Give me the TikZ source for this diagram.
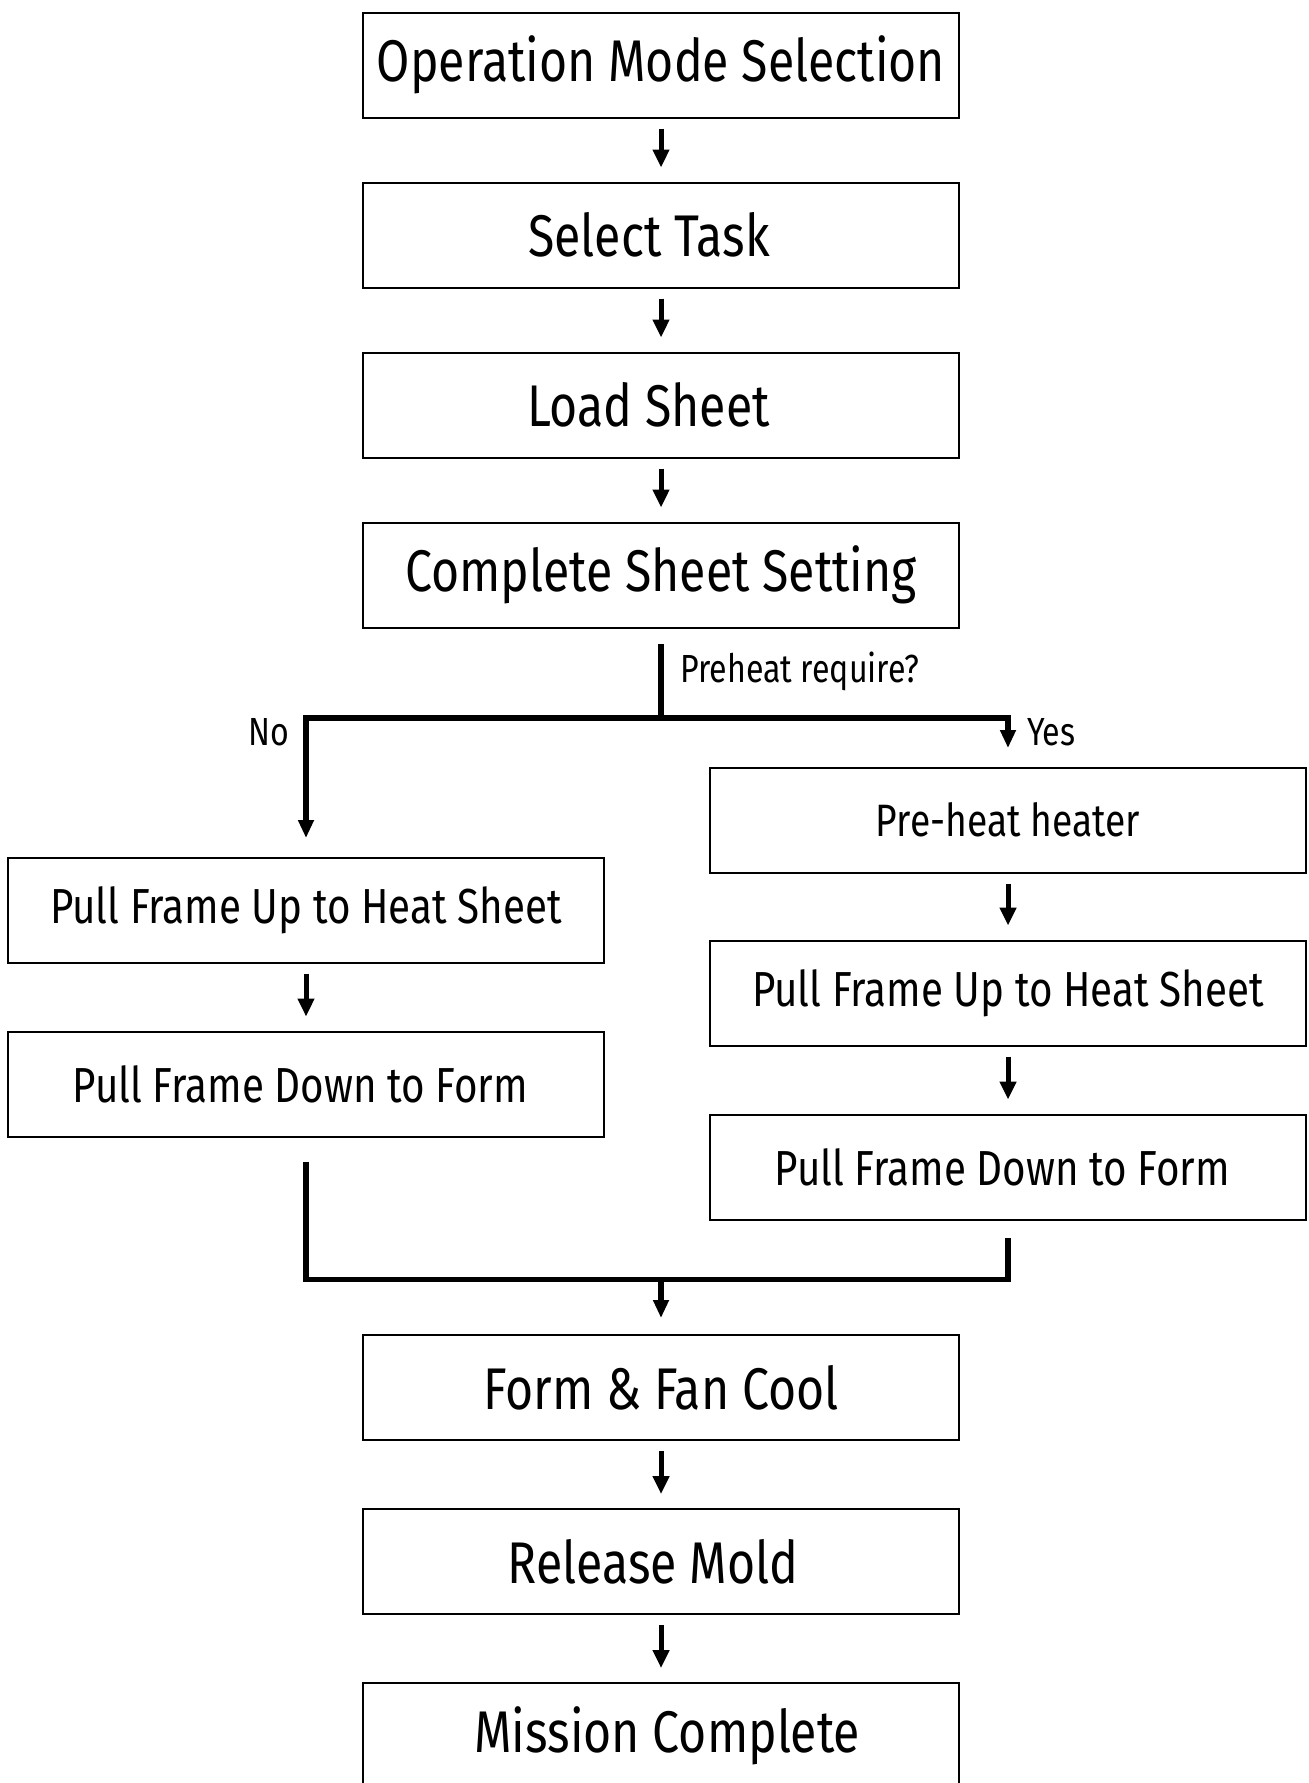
\documentclass[tikz,border=0pt]{standalone}
\usepackage{fontspec}
\setmainfont{Fira Sans}[FakeStretch=0.82]
\usetikzlibrary{arrows.meta,positioning}

\tikzset{
  stepbox/.style={draw, rectangle, line width=1pt, minimum width=298pt, minimum height=52.5pt, inner sep=0pt},
  bigtext/.style={font=\fontsize{29.4pt}{34pt}\selectfont},
  midtext/.style={font=\fontsize{24.6pt}{29pt}\selectfont},
  smalltext/.style={font=\fontsize{22.7pt}{27pt}\selectfont},
  tagtext/.style={font=\fontsize{19.6pt}{23pt}\selectfont},
  nudge/.style={execute at begin node={\hspace*{#1}}},
  arr/.style={line width=2.5pt, -{Triangle[width=8pt,length=9pt]}, shorten <=5pt, shorten >=7pt},
  flow/.style={line width=2.7pt},
  flowarr/.style={line width=2.7pt, -{Triangle[width=7.5pt,length=9pt]}}
}

\begin{document}
\begin{tikzpicture}[node distance=87pt]
    \useasboundingbox (0,0) rectangle (654.5pt,-891.5pt);

    % main column, top part
    \node (mode) [stepbox, bigtext] at (330.5pt,-32.5pt) {Operation Mode Selection};
    \node (task) [stepbox, bigtext, nudge=-12pt, below of=mode, node distance=85pt] {Select Task};
    \node (load) [stepbox, bigtext, nudge=-12.5pt, below of=task, node distance=85pt] {Load Sheet};
    \node (setting) [stepbox, bigtext, below of=load, node distance=85pt] {Complete Sheet Setting};

    % no preheat branch
    \node (upL) [stepbox, midtext] at (153pt,-455pt) {Pull Frame Up to Heat Sheet};
    \node (downL) [stepbox, midtext, nudge=-5.7pt, below of=upL] {Pull Frame Down to Form};

    % preheat branch
    \node (preheat) [stepbox, smalltext] at (504pt,-410pt) {Pre-heat heater};
    \node (upR) [stepbox, midtext, below of=preheat, node distance=86.5pt] {Pull Frame Up to Heat Sheet};
    \node (downR) [stepbox, midtext, nudge=-5.7pt, below of=upR] {Pull Frame Down to Form};

    % main column, bottom part
    \node (form) [stepbox, bigtext] at (330.5pt,-693.75pt) {Form \& Fan Cool};
    \node (release) [stepbox, bigtext, nudge=-8pt, below of=form] {Release Mold};
    \node (mission) [stepbox, bigtext, nudge=6.3pt, below of=release] {Mission Complete};

    \draw[arr] (mode) -- (task);
    \draw[arr] (task) -- (load);
    \draw[arr] (load) -- (setting);
    \draw[arr] (upL) -- (downL);
    \draw[arr] (preheat) -- (upR);
    \draw[arr] (upR) -- (downR);
    \draw[arr] (form) -- (release);
    \draw[arr] (release) -- (mission);

    % split
    \draw[flow] ([yshift=-7.75pt]setting.south) -- ++(0,-37pt) coordinate (fork)
        node [tagtext, pos=0.37, right=5pt] {Preheat require?};
    \draw[flowarr] (fork) -| ([yshift=9.25pt]upL.north) coordinate (noend);
    \draw[flowarr] (fork) -| ([yshift=9.25pt]preheat.north) coordinate (yesend);
    \node (no) [tagtext, anchor=east] at ([xshift=-5pt,yshift=-7pt]fork -| upL.north) {No};
    \node (yes) [tagtext, anchor=west] at ([xshift=6pt,yshift=-7pt]fork -| preheat.north) {Yes};

    % join
    \draw[flow] ([yshift=-12pt]downL.south) |- ([yshift=-29.5pt]downR.south) coordinate (joinR)
        -- ([yshift=-8.5pt]downR.south);
    \draw[flowarr] (joinR -| form.north) -- ([yshift=8pt]form.north);
\end{tikzpicture}
\end{document}
